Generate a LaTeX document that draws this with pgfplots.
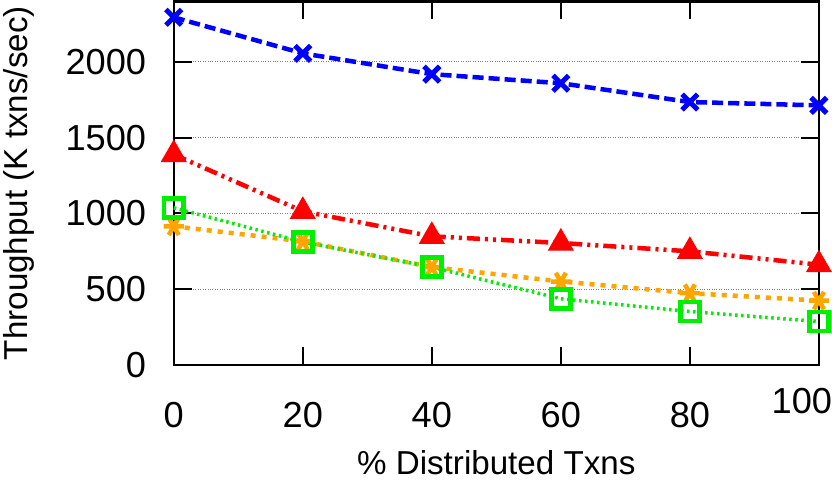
\documentclass[border=0pt]{standalone}
\usepackage{pgfplots}
\pgfplotsset{compat=1.18}
\usepackage{fontspec}
\setmainfont{Liberation Sans}
\definecolor{gpblue}{RGB}{0,0,255}
\definecolor{gpred}{RGB}{255,0,0}
\definecolor{gporange}{RGB}{255,165,0}
\definecolor{gpgreen}{RGB}{0,238,0}
\begin{document}
\begin{tikzpicture}
\begin{axis}[
  scale only axis, width=642pt, height=362pt,
  xmin=0, xmax=100, ymin=0, ymax=2400,
  xtick={0,20,40,60,80}, ytick={0,500,1000,1500,2000},
  extra x ticks={100},
  extra x tick style={xticklabel style={inner sep=0pt, xshift=-17pt, yshift=10pt}},
  /pgf/number format/assume math mode=true,
  /pgf/number format/1000 sep={},
  tick align=inside, major tick length=18pt,
  axis line style={line width=2.5pt},
  every tick/.style={black, line width=2pt},
  ymajorgrids, grid style={dotted, gray, line width=1pt},
  tick label style={font=\fontsize{36}{40}\selectfont},
  xticklabel style={yshift=-33pt},
  yticklabel style={xshift=-24pt},
  label style={font=\fontsize{33}{38}\selectfont, inner sep=3pt},
  xlabel={\% Distributed Txns},
  ylabel={Throughput (K txns/sec)},
  xlabel style={inner sep=6pt, yshift=-13pt},
  ylabel style={yshift=25pt},
  clip=false,
]
\addplot[gpblue, line width=4.5pt, dash pattern=on 11pt off 5pt,
  mark=x, mark size=11pt, mark options={solid, line width=5pt}]
  coordinates {(0,2294) (20,2056) (40,1919) (60,1859) (80,1735) (100,1713)};
\addplot[gpred, line width=4.5pt, dash pattern=on 13pt off 5pt on 3pt off 5pt on 3pt off 5pt,
  mark=triangle*, mark size=14pt, mark options={solid, line width=1pt}]
  coordinates {(0,1389) (20,1014) (40,849) (60,805) (80,750) (100,662)};
\addplot[gporange, line width=4.5pt, dash pattern=on 5pt off 6pt,
  mark=asterisk, mark size=10pt, mark options={solid, line width=4.5pt, rotate=90}]
  coordinates {(0,915) (20,816) (40,646) (60,551) (80,474) (100,425)};
\addplot[gpgreen, line width=3.5pt, dash pattern=on 2.5pt off 3.5pt,
  mark=square, mark size=9.5pt, mark options={solid, line width=4.5pt}]
  coordinates {(0,1037) (20,812) (40,646) (60,437) (80,353) (100,287)};
\end{axis}
\end{tikzpicture}
\end{document}
